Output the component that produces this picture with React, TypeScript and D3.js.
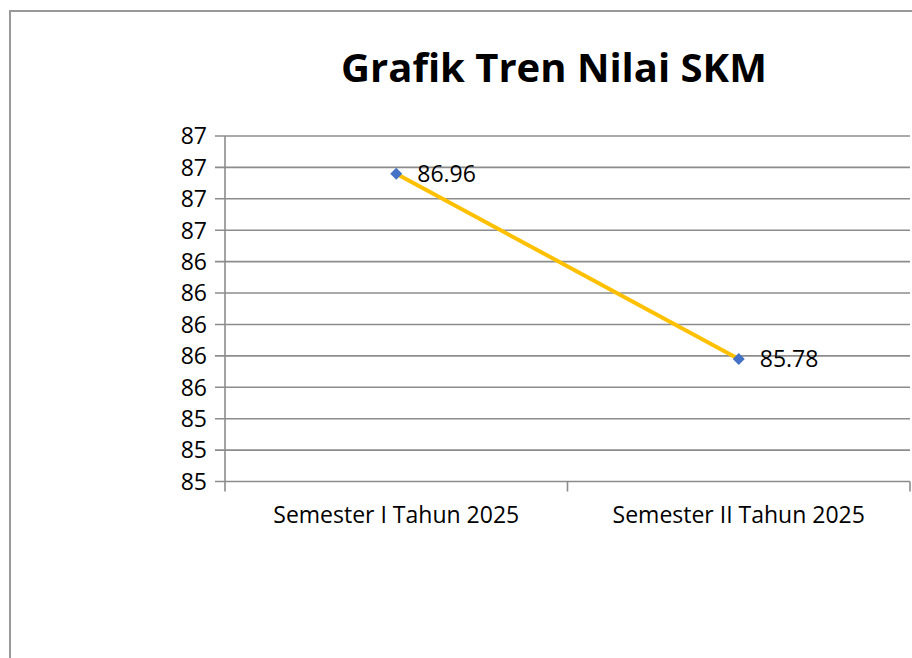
import React from "react";
import * as d3 from "d3";

// data
const categories = ["Semester I Tahun 2025", "Semester II Tahun 2025"];
const values = [86.96, 85.78];
const yTicks = [85.0, 85.2, 85.4, 85.6, 85.8, 86.0, 86.2, 86.4, 86.6, 86.8, 87.0, 87.2];
const title = "Grafik Tren Nilai SKM";

const W = 912, H = 658;
const plot = { left: 225, right: 910, top: 136, bottom: 481.5 };

export default function App() {
  const x = d3.scaleBand<string>().domain(categories).range([plot.left, plot.right]).padding(0);
  const y = d3.scaleLinear().domain([85, 87.2]).range([plot.bottom, plot.top]);
  const fmt = d3.format(".0f");
  const cx = (c: string) => (x(c) as number) + x.bandwidth() / 2;

  const pts = categories.map((c, i) => ({ c, v: values[i] }));
  const line = d3.line<{ c: string; v: number }>().x(d => cx(d.c)).y(d => y(d.v));
  // excel style marker: a square turned 45deg
  const marker = d3.symbol().type(d3.symbolSquare).size(72)();

  const gridColor = "#8c8c8c";
  const font = "'Open Sans', sans-serif";

  return (
    <svg width={W} height={H} style={{ position: "absolute", left: 0, top: 0, background: "#fff" }}>
      {/* outer chart border */}
      <rect x={10} y={11} width={W + 20} height={H + 20} fill="white" stroke="#999" strokeWidth={2} />

      <text x={554} y={82} textAnchor="middle" fontFamily={font} fontWeight="bold" fontSize={40} fill="#000">
        {title}
      </text>

      {/* gridlines + y ticks */}
      {yTicks.map((t, i) => (
        <g key={i}>
          <line x1={plot.left - 10} x2={plot.right} y1={y(t)} y2={y(t)} stroke={gridColor} strokeWidth={1.6} />
          <text x={207} y={y(t)} dy="0.36em" textAnchor="end" fontFamily={font} fontSize={23} fill="#000">
            {fmt(t)}
          </text>
        </g>
      ))}

      {/* y axis */}
      <line x1={plot.left} x2={plot.left} y1={plot.top} y2={plot.bottom + 10} stroke={gridColor} strokeWidth={1.6} />

      {/* x ticks between categories */}
      {categories.map((c, i) => (
        <line key={i} x1={(x(c) as number) + x.bandwidth()} x2={(x(c) as number) + x.bandwidth()}
          y1={plot.bottom} y2={plot.bottom + 10} stroke={gridColor} strokeWidth={1.6} />
      ))}

      {categories.map((c, i) => (
        <text key={i} x={cx(c)} y={523} textAnchor="middle" fontFamily={font} fontSize={23} fill="#000">
          {c}
        </text>
      ))}

      {/* series */}
      <path d={line(pts) || ""} fill="none" stroke="#FFC000" strokeWidth={4} />
      {pts.map((p, i) => (
        <g key={i}>
          <path d={marker || ""} transform={`translate(${cx(p.c)},${y(p.v)}) rotate(45)`} fill="#4472C4" />
          <text x={cx(p.c) + 21} y={y(p.v)} dy="0.36em" fontFamily={font} fontSize={23} fill="#000">
            {p.v.toFixed(2)}
          </text>
        </g>
      ))}
    </svg>
  );
}
